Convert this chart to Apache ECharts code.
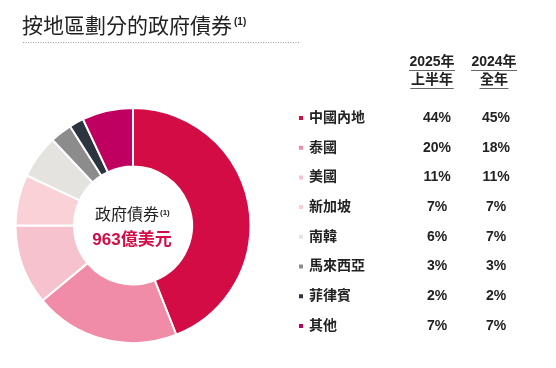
<!DOCTYPE html>
<html><head><meta charset="utf-8">
<script src="https://cdn.jsdelivr.net/npm/echarts@6/dist/echarts.min.js"></script>
<style>html,body{margin:0;padding:0;background:#fff}#c{width:556px;height:368px}</style>
</head><body><div id="c"></div>
<script>
var regions = ['中國內地','泰國','美國','新加坡','南韓','馬來西亞','菲律賓','其他'];
var share2025H1 = [44,20,11,7,6,3,2,7];
var share2024FY = [45,18,11,7,7,3,2,7];
var colors = ['#D30C46','#F08CA7','#F6C2CD','#FAD1D7','#E5E3E0','#8C8C8C','#2C3440','#BF0060'];
var titleText = '按地區劃分的政府債券';
var centerLine1 = '政府債券';
var centerLine2 = '963億美元';
var colHeads = [['2025年','上半年'],['2024年','全年']];

var FF = '"Liberation Sans","Noto Sans CJK TC",sans-serif';
var chart = echarts.init(document.getElementById('c'), null, {renderer:'canvas'});

var pieData = regions.map(function(r,i){return {name:r, value:share2025H1[i], itemStyle:{color:colors[i]}};});

var graphics = [
  {type:'text', left:22, top:17, style:{text:titleText, font:'21px '+FF, fill:'#222'}},
  {type:'text', left:234, top:17, style:{text:'(1)', font:'bold 10px '+FF, fill:'#222'}},
  {type:'line', shape:{x1:23,y1:42.5,x2:300,y2:42.5}, style:{stroke:'#9a9a9a', lineWidth:1, lineDash:[1,1.5]}},
  {type:'text', left:95, top:208, style:{text:centerLine1, font:'16px '+FF, fill:'#222'}},
  {type:'text', left:160, top:209, style:{text:'(1)', font:'bold 8px '+FF, fill:'#222'}},
  {type:'text', x:132, y:240, style:{text:centerLine2, font:'bold 17px '+FF, fill:'#D30C46', textAlign:'center', textVerticalAlign:'middle'}}
];
var colX = [432, 494];
colHeads.forEach(function(h,ci){
  h.forEach(function(t,li){
    var y = li===0 ? 62 : 80;
    graphics.push({type:'text', x:colX[ci], y:y, style:{text:t, font:'bold 14px '+FF, fill:'#222', textAlign:'center', textVerticalAlign:'middle'}});
    var w = t.length===5 ? 46 : t.length*14.5;
    var ly = li===0 ? 70.5 : 88.5;
    graphics.push({type:'line', shape:{x1:colX[ci]-w/2, y1:ly, x2:colX[ci]+w/2, y2:ly}, style:{stroke:'#666', lineWidth:1}});
  });
});

chart.setOption({
  animation:false,
  graphic: graphics,
  legend:{
    orient:'vertical', left:292, top:106, itemGap:15.7, itemWidth:6, itemHeight:6, icon:'rect',
    selectedMode:false,
    data: regions,
    formatter: function(name){
      var i = regions.indexOf(name);
      return '{n|'+name+'}{a|'+share2025H1[i]+'%}{b|'+share2024FY[i]+'%}';
    },
    textStyle:{
      rich:{
        n:{width:100, fontSize:14, fontWeight:'bold', fontFamily:FF, color:'#222'},
        a:{width:56, align:'center', fontSize:14, fontWeight:'bold', fontFamily:FF, color:'#222'},
        b:{width:62, align:'center', fontSize:14, fontWeight:'bold', fontFamily:FF, color:'#222'}
      }
    }
  },
  series:[{
    type:'pie', center:[133,225.5], radius:[59,117.5], startAngle:90, clockwise:true,
    avoidLabelOverlap:false, label:{show:false}, labelLine:{show:false},
    emphasis:{disabled:true},
    itemStyle:{borderColor:'#fff', borderWidth:2},
    data: pieData
  }]
});
</script></body></html>
